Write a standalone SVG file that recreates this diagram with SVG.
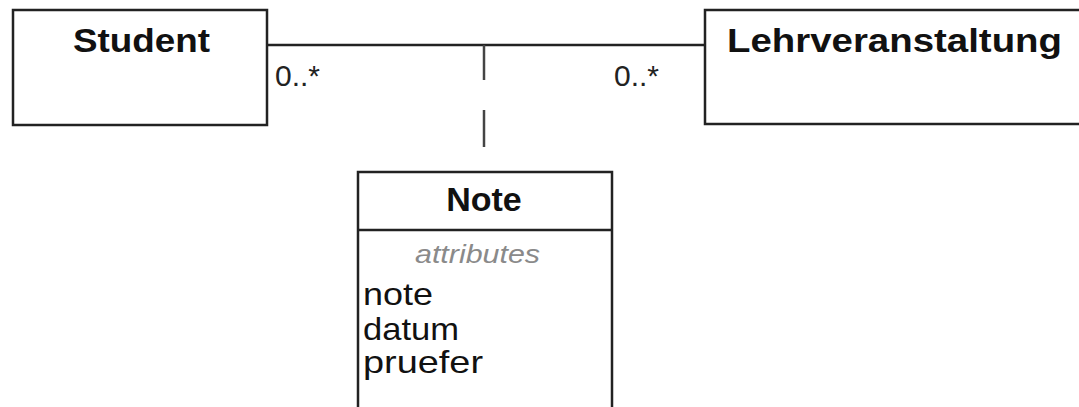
<svg xmlns="http://www.w3.org/2000/svg" width="1079" height="407" viewBox="0 0 1079 407">
<style>
.box{fill:#fff;stroke:#222;stroke-width:2.5}
.title{font-family:"Liberation Sans",Arial,sans-serif;font-weight:bold;font-size:34px;fill:#111}
.mult{font-family:"Liberation Sans",Arial,sans-serif;font-size:30px;fill:#222}
.attr{font-family:"Liberation Sans",Arial,sans-serif;font-size:32px;fill:#111}
.stereo{font-family:"Liberation Sans",Arial,sans-serif;font-style:italic;font-size:25px;fill:#8a8a8a}
.line{stroke:#222;stroke-width:2.5;fill:none}
.dash{stroke:#444;stroke-width:2.5;fill:none}
</style>
<rect width="1079" height="407" fill="#fff"/>
<g id="connectors">
<line class="line" x1="267" y1="45" x2="705" y2="45"/>
<line class="dash" x1="484" y1="45" x2="484" y2="80"/>
<line class="dash" x1="484" y1="110" x2="484" y2="147"/>
<text class="mult" x="275" y="86">0..*</text>
<text class="mult" x="614" y="86">0..*</text>
</g>
<g id="student">
<rect class="box" x="13" y="10" width="254" height="115"/>
<text class="title" x="73" y="52" textLength="137" lengthAdjust="spacingAndGlyphs">Student</text>
</g>
<g id="lehrveranstaltung">
<rect class="box" x="705" y="10" width="400" height="114"/>
<text class="title" x="727" y="52" textLength="335" lengthAdjust="spacingAndGlyphs">Lehrveranstaltung</text>
</g>
<g id="note">
<rect class="box" x="358" y="172" width="254" height="260"/>
<line class="line" x1="358" y1="230" x2="612" y2="230"/>
<text class="title" x="484" y="211" text-anchor="middle">Note</text>
<text class="stereo" x="415" y="263" textLength="125" lengthAdjust="spacingAndGlyphs">attributes</text>
<text class="attr" x="363" y="305" textLength="70" lengthAdjust="spacingAndGlyphs">note</text>
<text class="attr" x="363" y="340" textLength="96" lengthAdjust="spacingAndGlyphs">datum</text>
<text class="attr" x="363" y="373" textLength="120" lengthAdjust="spacingAndGlyphs">pruefer</text>
</g>
</svg>
